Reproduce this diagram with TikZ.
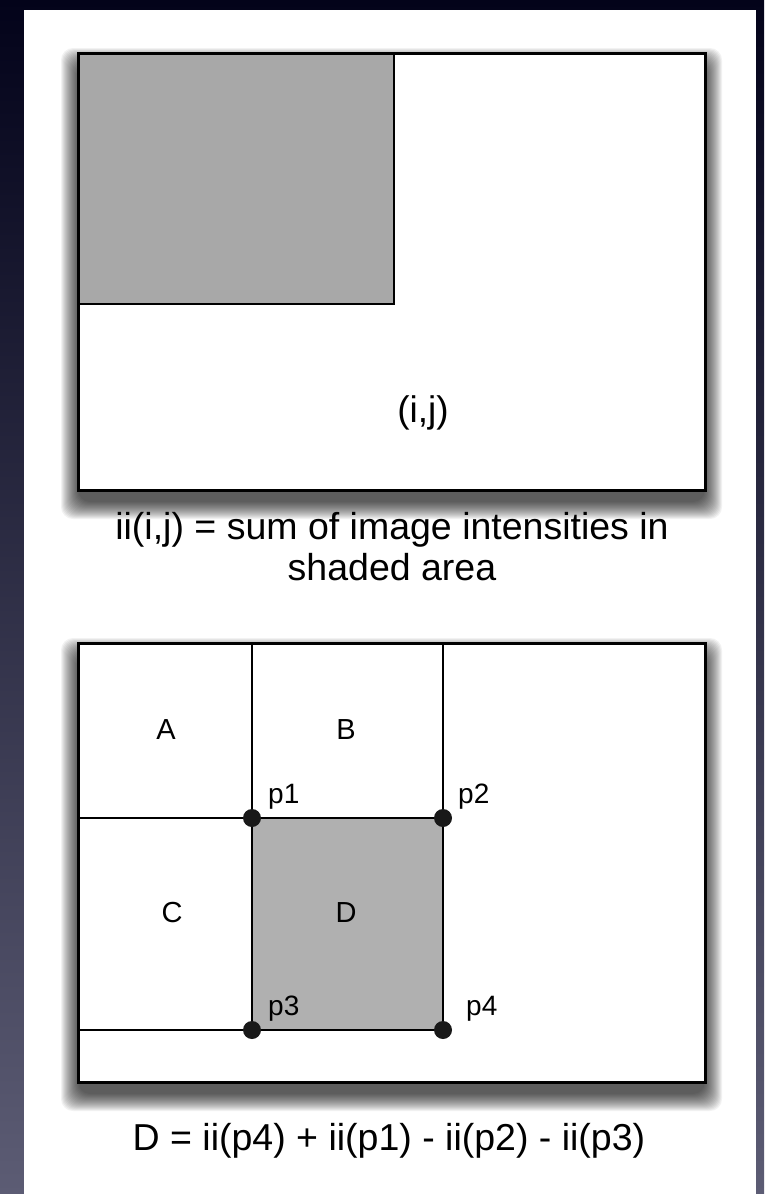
\documentclass[tikz,border=0pt]{standalone}
\usepackage{fontspec}
\setmainfont{Liberation Sans}
\definecolor{bgtop}{HTML}{03031A}
\definecolor{bgbot}{HTML}{5C5C74}
\definecolor{shadeA}{HTML}{A8A8A8}
\definecolor{shadeB}{HTML}{B0B0B0}
\tikzset{
  frame/.style={draw=black, line width=3pt, fill=white},
  grid/.style={draw=black, line width=2.4pt},
  corner/.style={circle, fill=black!90, inner sep=0pt, minimum size=18pt},
  caption/.style={font=\fontsize{37.5}{41}\selectfont, align=center},
  region/.style={font=\fontsize{29}{32}\selectfont},
  ptlabel/.style={font=\fontsize{28}{30}\selectfont, anchor=south west, inner sep=0pt},
  shadowlayer/.style={fill=black, opacity=0.05, rounded corners=12pt}
}
% soft drop shadow under a box: left, top, right, bottom
\newcommand\boxshadow[4]{%
  \foreach \k in {0,...,17}{%
    \path[shadowlayer] ({#1-17+\k},{#2-5+\k}) rectangle ({#3+17-\k},{#4+29-\k});
  }%
}
\begin{document}
\begin{tikzpicture}[x=1pt, y=-1pt]
  % slide background and white panel
  \useasboundingbox (0,0) rectangle (764,1194);
  \shade[top color=bgtop, bottom color=bgbot] (0,0) rectangle (764,1194);
  \fill[white] (24,10) rectangle (756,1194);

  % integral image: area above and left of (i,j)
  \boxshadow{78}{53}{705}{490}
  \path[frame] (78,53) rectangle (705,490);
  \fill[shadeA] (78,53) rectangle (394,304);
  \draw[grid] (78,304) -- (394,304) -- (394,53);
  \draw[line width=3pt] (78,53) rectangle (705,490);
  \node[font=\fontsize{37}{40}\selectfont] (ij) at (423,413) {(i,j)};
  \node[caption] (cap1) at (392,547) {ii(i,j) = sum of image intensities in\\shaded area};

  % rectangle sum from four corner lookups
  \boxshadow{78}{643}{705}{1082}
  \path[frame] (78,643) rectangle (705,1082);
  \coordinate (q1) at (252,818);
  \coordinate (q2) at (443,818);
  \coordinate (q3) at (252,1030);
  \coordinate (q4) at (443,1030);
  \fill[shadeB] (q1) rectangle (q4);
  \draw[grid] (252,643) -- (q1) -- (q3);
  \draw[grid] (443,643) -- (q2) -- (q4);
  \draw[grid] (78,818) -- (q1) -- (q2);
  \draw[grid] (78,1030) -- (q3) -- (q4);
  \draw[line width=3pt] (78,643) rectangle (705,1082);

  \node[corner] (c1) at (q1) {};
  \node[corner] (c2) at (q2) {};
  \node[corner] (c3) at (q3) {};
  \node[corner] (c4) at (q4) {};
  \node[ptlabel] (l1) at (268,809) {p1};
  \node[ptlabel] (l2) at (458,809) {p2};
  \node[ptlabel] (l3) at (268,1021) {p3};
  \node[ptlabel] (l4) at (466,1021) {p4};

  \node[region] (A) at (166,730) {A};
  \node[region] (B) at (346,730) {B};
  \node[region] (C) at (172,913) {C};
  \node[region] (D) at (346,913) {D};

  \node[caption] (cap2) at (389,1141) {D = ii(p4) + ii(p1) - ii(p2) - ii(p3)};
\end{tikzpicture}
\end{document}
